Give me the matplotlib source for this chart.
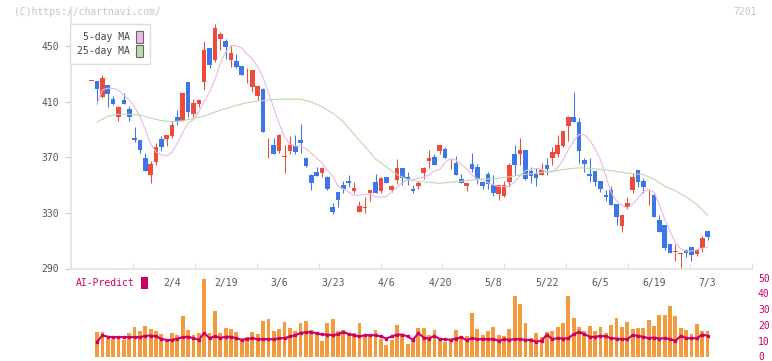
import numpy as np
import matplotlib
matplotlib.use("Agg")
import matplotlib.pyplot as plt
from matplotlib.patches import Patch

plt.rcParams['font.family'] = ['DejaVu Sans Mono']

# daily candles, day 0 = first session shown
opens = [424.6, 424.6, 413.6, 422.0, 411.9, 399.2, 411.2, 404.7, 384.1, 382.4,
         369.7, 357.2, 366.8, 383.1, 383.1, 385.3, 399.2, 395.9, 423.9, 401.1,
         408.3, 424.3, 448.6, 439.9, 455.0, 453.6, 439.9, 439.2, 435.6, 426.0,
         420.8, 414.3, 419.1, 372.8, 379.1, 374.7, 370.2, 374.7, 378.4, 382.4,
         369.7, 357.2, 359.6, 358.4, 356.0, 334.5, 344.8, 349.8, 353.1, 345.7,
         330.9, 333.5, 344.5, 352.2, 345.9, 355.6, 346.4, 353.8, 362.5, 356.0,
         347.4, 349.3, 358.6, 367.4, 370.3, 374.7, 375.9, 365.6, 365.6, 354.4,
         349.3, 365.1, 363.0, 352.4, 357.8, 350.0, 343.3, 342.1, 352.4, 372.3,
         372.3, 375.2, 360.1, 358.0, 357.2, 364.4, 369.7, 372.3, 378.1, 392.5,
         399.2, 395.6, 368.0, 358.0, 360.4, 352.9, 342.9, 346.4, 336.4, 320.6,
         334.5, 346.4, 360.8, 353.1, 343.3, 342.9, 324.9, 321.3, 307.6, 302.1,
         300.4, 303.3, 305.2, 300.4, 304.5, 317.0]
highs = [424.6, 424.6, 429.1, 422.0, 414.0, 407.1, 416.0, 407.1, 392.0, 382.4,
         372.8, 367.5, 379.9, 385.3, 386.0, 396.1, 404.0, 416.0, 423.9, 411.9,
         411.9, 453.6, 448.6, 465.8, 460.1, 455.0, 450.0, 444.2, 435.6, 434.0,
         432.7, 422.0, 419.8, 384.1, 384.1, 386.9, 378.8, 385.3, 386.0, 393.9,
         370.4, 358.0, 363.2, 363.2, 356.5, 336.9, 344.8, 352.9, 357.2, 352.2,
         338.8, 341.6, 346.4, 358.0, 355.6, 355.6, 350.0, 369.0, 362.5, 359.6,
         349.8, 352.9, 363.0, 375.2, 372.5, 378.8, 377.6, 368.5, 370.9, 358.0,
         351.7, 373.3, 365.1, 352.4, 359.4, 357.2, 349.8, 352.9, 366.1, 378.8,
         383.6, 375.2, 362.8, 362.0, 366.1, 369.2, 377.6, 386.0, 388.9, 399.7,
         416.9, 398.0, 369.2, 369.2, 360.4, 352.9, 346.4, 349.3, 336.4, 328.5,
         341.2, 359.0, 360.8, 355.0, 346.4, 344.1, 328.5, 321.3, 307.6, 307.6,
         301.0, 303.8, 305.2, 303.8, 313.4, 317.0]
lows = [424.6, 408.5, 412.4, 406.4, 407.3, 396.4, 408.5, 396.4, 381.2, 372.8,
        360.4, 351.7, 364.4, 374.7, 378.1, 384.0, 393.2, 395.9, 399.2, 398.7,
        405.9, 418.4, 434.4, 438.7, 447.1, 440.4, 435.1, 434.4, 429.1, 423.2,
        417.1, 411.2, 388.4, 369.7, 372.6, 373.3, 358.9, 372.3, 372.3, 372.8,
        363.2, 346.4, 356.8, 356.0, 346.4, 329.0, 334.0, 344.1, 348.9, 344.1,
        330.9, 329.7, 338.8, 344.1, 344.5, 351.7, 345.2, 350.8, 350.0, 349.8,
        344.5, 347.5, 354.1, 362.6, 364.4, 372.3, 369.7, 361.8, 357.2, 351.7,
        345.8, 359.6, 350.8, 346.9, 346.9, 342.1, 339.3, 341.6, 348.9, 357.2,
        364.4, 353.6, 351.7, 349.3, 357.2, 357.2, 364.4, 370.4, 377.6, 381.7,
        395.6, 365.6, 359.6, 352.0, 349.3, 345.2, 338.3, 335.6, 321.3, 316.6,
        332.8, 344.5, 348.9, 344.1, 335.6, 327.3, 315.9, 303.3, 300.9, 295.6,
        290.1, 298.5, 295.6, 299.0, 302.1, 310.5]
closes = [424.6, 419.1, 426.8, 415.5, 408.3, 406.4, 408.5, 399.2, 382.4, 375.2,
          360.4, 365.1, 377.6, 377.6, 386.0, 393.2, 396.4, 416.0, 402.8, 408.8,
          411.2, 447.1, 436.3, 462.9, 458.6, 449.3, 445.0, 435.1, 429.1, 426.0,
          432.7, 421.2, 388.4, 372.8, 372.6, 386.0, 370.2, 379.1, 373.5, 380.5,
          364.0, 351.7, 356.8, 362.0, 347.2, 330.9, 339.3, 347.4, 351.7, 348.1,
          334.9, 333.5, 346.4, 344.5, 355.1, 351.7, 349.3, 362.3, 355.0, 354.6,
          345.9, 351.7, 362.4, 369.6, 364.4, 378.8, 369.7, 365.6, 357.2, 351.7,
          351.7, 361.3, 354.6, 349.3, 350.8, 344.5, 349.8, 349.8, 364.4, 364.4,
          375.2, 354.1, 356.5, 355.3, 360.8, 361.5, 374.0, 378.8, 388.9, 399.2,
          395.6, 374.7, 364.9, 356.5, 352.4, 346.9, 341.2, 335.6, 326.8, 328.5,
          336.9, 356.0, 351.9, 348.9, 343.3, 327.3, 316.6, 304.5, 300.9, 302.1,
          300.4, 300.9, 299.7, 303.3, 311.6, 312.9]

# moving averages as drawn (5-day from day 1, 25-day every other day)
ma5_days = list(range(1, 116))
ma5 = [408.5, 418.5, 419.6, 419.5, 418.4, 414.7, 411.4, 406.2, 399.2, 390.0,
       379.7, 373.8, 371.7, 370.9, 373.7, 380.3, 388.0, 394.4, 397.2, 402.7,
       409.9, 417.1, 425.6, 437.6, 445.5, 450.5, 450.1, 448.7, 444.3, 440.6,
       435.1, 427.3, 416.3, 405.3, 394.2, 384.7, 379.6, 378.1, 378.0, 376.2,
       372.9, 369.3, 365.7, 360.5, 356.5, 349.3, 347.1, 344.9, 342.8, 342.6,
       343.5, 343.1, 341.6, 341.4, 341.6, 345.2, 348.3, 351.9, 354.0, 354.3,
       354.8, 355.7, 357.3, 360.1, 361.3, 366.2, 369.1, 368.1, 364.9, 361.8,
       357.4, 354.5, 353.8, 351.8, 350.0, 349.0, 348.9, 349.2, 352.2, 356.8,
       360.4, 361.3, 362.0, 361.3, 359.5, 359.5, 362.5, 368.0, 375.5, 381.8,
       386.4, 386.1, 382.5, 376.0, 368.3, 356.5, 344.6, 338.5, 335.6, 333.4,
       336.3, 340.5, 345.2, 347.0, 345.0, 336.0, 325.5, 316.6, 308.5, 304.2,
       302.5, 302.5, 303.4, 304.5, 305.5]
ma25_days = list(range(1, 116, 2))
ma25 = [395.3, 399.5, 400.9, 400.9, 400.4, 398.2, 396.3, 395.6, 396.2, 398.0,
        399.5, 402.5, 405.0, 407.3, 409.2, 410.4, 411.1, 411.7, 411.8, 411.7,
        409.8, 406.3, 401.8, 395.5, 386.5, 377.8, 368.8, 362.9, 357.6, 354.0,
        352.6, 351.9, 351.3, 352.0, 352.8, 353.6, 354.4, 354.4, 355.4, 356.6,
        357.7, 358.6, 359.5, 360.4, 361.6, 362.4, 362.0, 361.3, 360.3, 359.2,
        358.1, 357.6, 354.2, 349.2, 345.9, 341.6, 336.0, 328.5]

# lower panel (days 1..115)
sub_days = list(range(1, 116))
volume = [15.6, 15.6, 11.0, 11.0, 11.0, 10.4, 14.8, 18.6, 16.2, 19.2,
          17.3, 16.0, 14.2, 11.0, 14.8, 13.5, 25.5, 16.7, 13.5, 14.8,
          49.4, 15.2, 28.6, 14.8, 17.9, 17.3, 15.6, 11.0, 12.1, 15.4,
          14.2, 22.3, 23.6, 16.2, 17.3, 21.7, 17.9, 16.2, 21.3, 22.3,
          16.7, 14.8, 9.7, 21.1, 23.6, 16.2, 16.7, 14.8, 14.8, 21.1,
          13.1, 13.1, 16.7, 11.0, 7.2, 10.4, 19.8, 13.5, 7.9, 10.4,
          17.9, 17.9, 13.5, 16.7, 11.0, 9.1, 11.0, 16.7, 12.9, 12.9,
          27.3, 17.3, 13.5, 16.0, 18.6, 13.5, 12.9, 17.3, 38.7, 33.0,
          21.1, 11.7, 14.8, 12.3, 15.4, 16.0, 18.6, 21.1, 38.7, 24.2,
          18.6, 16.0, 19.2, 16.0, 18.6, 14.8, 19.8, 24.2, 18.6, 21.9,
          17.3, 17.9, 17.9, 22.9, 19.2, 26.1, 26.1, 31.8, 25.5, 18.0,
          16.7, 14.2, 20.4, 16.2, 16.2]
ai_predict = [9.3, 13.5, 12.5, 12.3, 12.3, 12.3, 12.3, 12.3, 12.3, 13.1,
              13.3, 12.8, 11.2, 10.5, 10.5, 11.3, 12.3, 12.5, 11.6, 10.6,
              15.0, 11.6, 12.8, 11.8, 12.5, 12.5, 11.6, 10.6, 11.2, 11.6,
              11.0, 11.0, 11.0, 11.0, 11.6, 11.6, 12.7, 13.5, 15.0, 15.4,
              15.4, 14.8, 14.0, 13.9, 13.5, 14.2, 15.6, 14.2, 13.5, 12.7,
              13.5, 13.5, 13.5, 12.7, 11.4, 12.7, 13.9, 13.9, 12.7, 10.6,
              14.8, 12.0, 11.4, 13.1, 11.0, 11.0, 10.6, 11.4, 12.1, 10.4,
              11.6, 11.0, 11.0, 11.0, 11.0, 10.0, 11.0, 10.6, 11.0, 11.0,
              10.6, 10.4, 9.5, 10.0, 13.9, 11.0, 11.6, 11.4, 11.6, 14.2,
              15.6, 14.2, 12.5, 12.5, 13.1, 12.7, 11.6, 11.4, 11.0, 11.0,
              13.5, 13.1, 12.5, 11.6, 12.0, 11.4, 11.6, 11.0, 10.0, 13.1,
              11.6, 11.6, 11.6, 13.9, 13.1]

date_days = [15, 25, 35, 45, 55, 65, 75, 85, 95, 105, 115]
date_labels = ["2/4", "2/19", "3/6", "3/23", "4/6", "4/20", "5/8", "5/22", "6/5", "6/19", "7/3"]
price_ticks = [290, 330, 370, 410, 450]
sub_ticks = [0, 10, 20, 30, 40, 50]

UP = "#EF4B3C"
DOWN = "#3D76E8"
MA5_COLOR = "#E8B8E8"
MA25_COLOR = "#B8DCAC"
AI_COLOR = "#CC0066"
BAR_COLOR = "#F39A3E"
TXT = "#555555"
W, H = 772, 361

fig = plt.figure(figsize=(W / 100, H / 100), dpi=100)
ax = fig.add_axes([71 / W, 1 - 268.5 / H, 681 / W, 258.5 / H])
axb = fig.add_axes([71 / W, 1 - 356.5 / H, 681 / W, 78.8 / H])
xlim = (-3.87, 123.3)

# candles
o = np.array(opens)
c = np.array(closes)
days = np.arange(len(c))
colors = np.where(c >= o, UP, DOWN)
ax.vlines(days, lows, highs, colors=colors, lw=0.75, zorder=2)
ax.bar(days, np.maximum(np.abs(c - o), 0.6), bottom=np.minimum(o, c),
       width=0.86, color=colors, zorder=2)
ax.plot(ma5_days, ma5, color=MA5_COLOR, lw=0.8, zorder=3)
ax.plot(ma25_days, ma25, color=MA25_COLOR, lw=0.8, zorder=3)

ax.set_xlim(*xlim)
ax.set_ylim(290, 475.9)
ax.set_yticks(price_ticks)
ax.set_xticks(np.linspace(xlim[0], xlim[1], 12)[1:])
ax.set_xticklabels([])
ax.set_xticks(date_days, labels=date_labels, minor=True)
ax.tick_params(axis='x', which='major', direction='in', length=4, width=0.8, color='#dddddd')
ax.tick_params(axis='x', which='minor', length=0, pad=6.5, labelsize=7, labelcolor=TXT)
ax.tick_params(axis='y', length=4.3, width=0.8, color='#cccccc', pad=4.3, labelsize=7, labelcolor=TXT)
for s in ['top', 'right']:
    ax.spines[s].set_visible(False)
for s in ['left', 'bottom']:
    ax.spines[s].set_color('#e0e0e0')
    ax.spines[s].set_linewidth(1.2)

handles = [Patch(facecolor=MA5_COLOR, edgecolor='#666666', lw=0.8),
           Patch(facecolor=MA25_COLOR, edgecolor='#666666', lw=0.8)]
leg = ax.legend(handles, ["5-day MA", "25-day MA"], markerfirst=False,
                loc='upper left', bbox_to_anchor=(70 / W, 1 - 24 / H),
                bbox_transform=fig.transFigure, borderaxespad=0, fontsize=7,
                handlelength=0.65, handleheight=1.6, handletextpad=0.7,
                labelspacing=0.15, borderpad=0.7, fancybox=False,
                edgecolor='#dddddd', framealpha=1)
leg.get_frame().set_linewidth(1.0)
for t in leg.get_texts():
    t.set_color('#444444')

# lower panel
axb.bar(sub_days, volume, width=0.72, color=BAR_COLOR)
axb.plot(sub_days, ai_predict, color=AI_COLOR, lw=1.5, marker='s', ms=2.0)
axb.set_xlim(*xlim)
axb.set_ylim(0, 50)
axb.set_yticks(sub_ticks)
axb.yaxis.tick_right()
axb.tick_params(axis='y', length=0, pad=4.3, labelsize=7, labelcolor=AI_COLOR)
axb.set_xticks([])
for s in axb.spines.values():
    s.set_visible(False)
axb.patch.set_alpha(0)

leg2 = axb.legend([Patch(facecolor=AI_COLOR)], ["AI-Predict"], markerfirst=False,
                  loc='upper left', bbox_to_anchor=(70 / W, 1 - 271 / H),
                  bbox_transform=fig.transFigure, borderaxespad=0, fontsize=7,
                  handlelength=0.65, handleheight=1.6, handletextpad=0.7,
                  borderpad=0.6, frameon=False)
for t in leg2.get_texts():
    t.set_color(AI_COLOR)

fig.text(14 / W, 1 - 12 / H, "(C)https://chartnavi.com/", fontsize=7,
         color='#c4c4c4', ha='left', va='center')
fig.text(757 / W, 1 - 12 / H, "7201", fontsize=7, color='#c4c4c4',
         ha='right', va='center')

fig.savefig("out.png", dpi=100)
